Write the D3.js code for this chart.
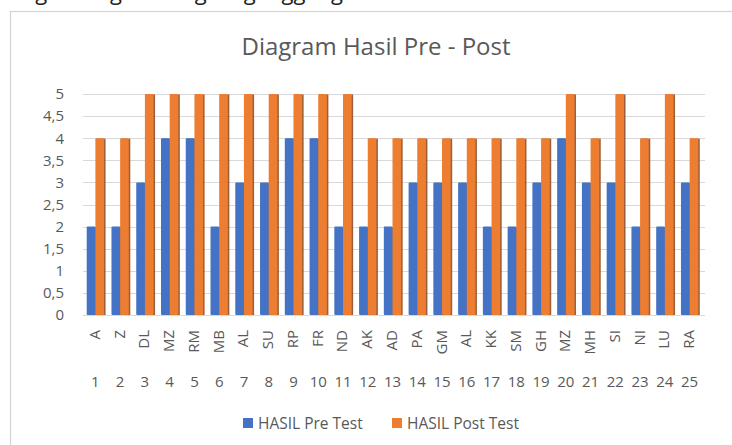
<!DOCTYPE html>
<html><head><meta charset="utf-8">
<script src="https://cdn.jsdelivr.net/npm/d3@7"></script>
<style>html,body{margin:0;padding:0;background:#fff;overflow:hidden}</style>
</head><body>
<script>
const names = ["A","Z","DL","MZ","RM","MB","AL","SU","RP","FR","ND","AK","AD","PA","GM","AL","KK","SM","GH","MZ","MH","SI","NI","LU","RA"];
const numbers = ["1","2","3","4","5","6","7","8","9","10","11","12","13","14","15","16","17","18","19","20","21","22","23","24","25"];
const preTest = [2,2,3,4,4,2,3,3,4,4,2,2,2,3,3,3,2,2,3,4,3,3,2,2,3];
const postTest = [4,4,5,5,5,5,5,5,5,5,5,4,4,4,4,4,4,4,4,5,4,5,4,5,4];
const seriesNames = ["HASIL Pre Test","HASIL Post Test"];
const yTicks = [0,0.5,1,1.5,2,2.5,3,3.5,4,4.5,5];
const colors = ["#4472C4","#ED7D31"];
const shadowColors = ["#2c4f8c","#8a4416"];

const W = 732, H = 445;
const font = "'Open Sans', 'Noto Sans', sans-serif";
const svg = d3.select("body").append("svg").attr("width", W).attr("height", H).style("display", "block");

// cut-off text from the document above (only its lowest part shows)
svg.append("text").attr("x", -4).attr("y", 0).attr("font-family", font)
  .attr("font-size", 22).attr("fill", "#222").text("dengan diagram bagian ganggang");

// chart frame
svg.append("rect").attr("x", 10.5).attr("y", 11.5).attr("width", 760).attr("height", 460)
  .attr("fill", "#fff").attr("stroke", "#d4d4d4").attr("stroke-width", 1.2);

svg.append("text").attr("x", 376).attr("y", 55).attr("text-anchor", "middle")
  .attr("font-family", font).attr("font-size", 24).attr("fill", "#595959")
  .text("Diagram Hasil Pre - Post");

const x0 = 83, x1 = 702;
const yTop = 94, yBot = 315;
const x = d3.scaleBand().domain(d3.range(names.length)).range([x0, x1]).paddingInner(0.3).paddingOuter(0.15);
const xs = d3.scaleBand().domain([0,1]).range([0, x.bandwidth()]);
const y = d3.scaleLinear().domain([0,5]).range([yBot, yTop]);

// gridlines
svg.append("g").selectAll("line").data(yTicks).join("line")
  .attr("x1", x0).attr("x2", 705).attr("y1", d => Math.round(y(d)) + 0.5).attr("y2", d => Math.round(y(d)) + 0.5)
  .attr("stroke", "#d9d9d9").attr("stroke-width", 1);

// y labels
const yAxis = d3.axisLeft(y).tickValues(yTicks).tickSize(0).tickPadding(0)
  .tickFormat(d => String(d).replace(".", ","));
const ya = svg.append("g").attr("transform", "translate(64,0)").call(yAxis);
ya.select(".domain").remove();
ya.selectAll("text").attr("font-family", font).attr("font-size", 15).attr("fill", "#595959");

// bars
const series = [preTest, postTest];
series.forEach((vals, s) => {
  const g = svg.append("g");
  g.selectAll("rect.sh").data(vals).join("rect").attr("class", "sh")
    .attr("x", (d, i) => x(i) + xs(s) + 1.5).attr("y", d => y(d) + 0.5)
    .attr("width", xs.bandwidth()).attr("height", d => yBot - y(d) - 0.5)
    .attr("fill", shadowColors[s]).attr("opacity", 0.85);
  g.selectAll("rect.bar").data(vals).join("rect").attr("class", "bar")
    .attr("x", (d, i) => x(i) + xs(s)).attr("y", d => y(d))
    .attr("width", xs.bandwidth()).attr("height", d => yBot - y(d))
    .attr("rx", 1)
    .attr("fill", colors[s]);
});

// category labels (rotated)
svg.append("g").selectAll("text").data(names).join("text")
  .attr("transform", (d, i) => `translate(${x(i) + x.bandwidth()/2 + 4.5},330) rotate(-90)`)
  .attr("text-anchor", "end").attr("font-family", font).attr("font-size", 15).attr("fill", "#595959")
  .text(d => d);

// number labels
svg.append("g").selectAll("text").data(numbers).join("text")
  .attr("x", (d, i) => x(i) + x.bandwidth()/2).attr("y", 387)
  .attr("text-anchor", "middle").attr("font-family", font).attr("font-size", 15).attr("fill", "#595959")
  .text(d => d);

// legend
const leg = [{x: 243, label: seriesNames[0], c: colors[0]}, {x: 392, label: seriesNames[1], c: colors[1]}];
const lg = svg.append("g");
leg.forEach(l => {
  lg.append("rect").attr("x", l.x).attr("y", 418).attr("width", 10).attr("height", 10).attr("fill", l.c);
  lg.append("text").attr("x", l.x + 15).attr("y", 429).attr("font-family", font).attr("font-size", 15.5)
    .attr("fill", "#595959").text(l.label);
});
</script>
</body></html>
